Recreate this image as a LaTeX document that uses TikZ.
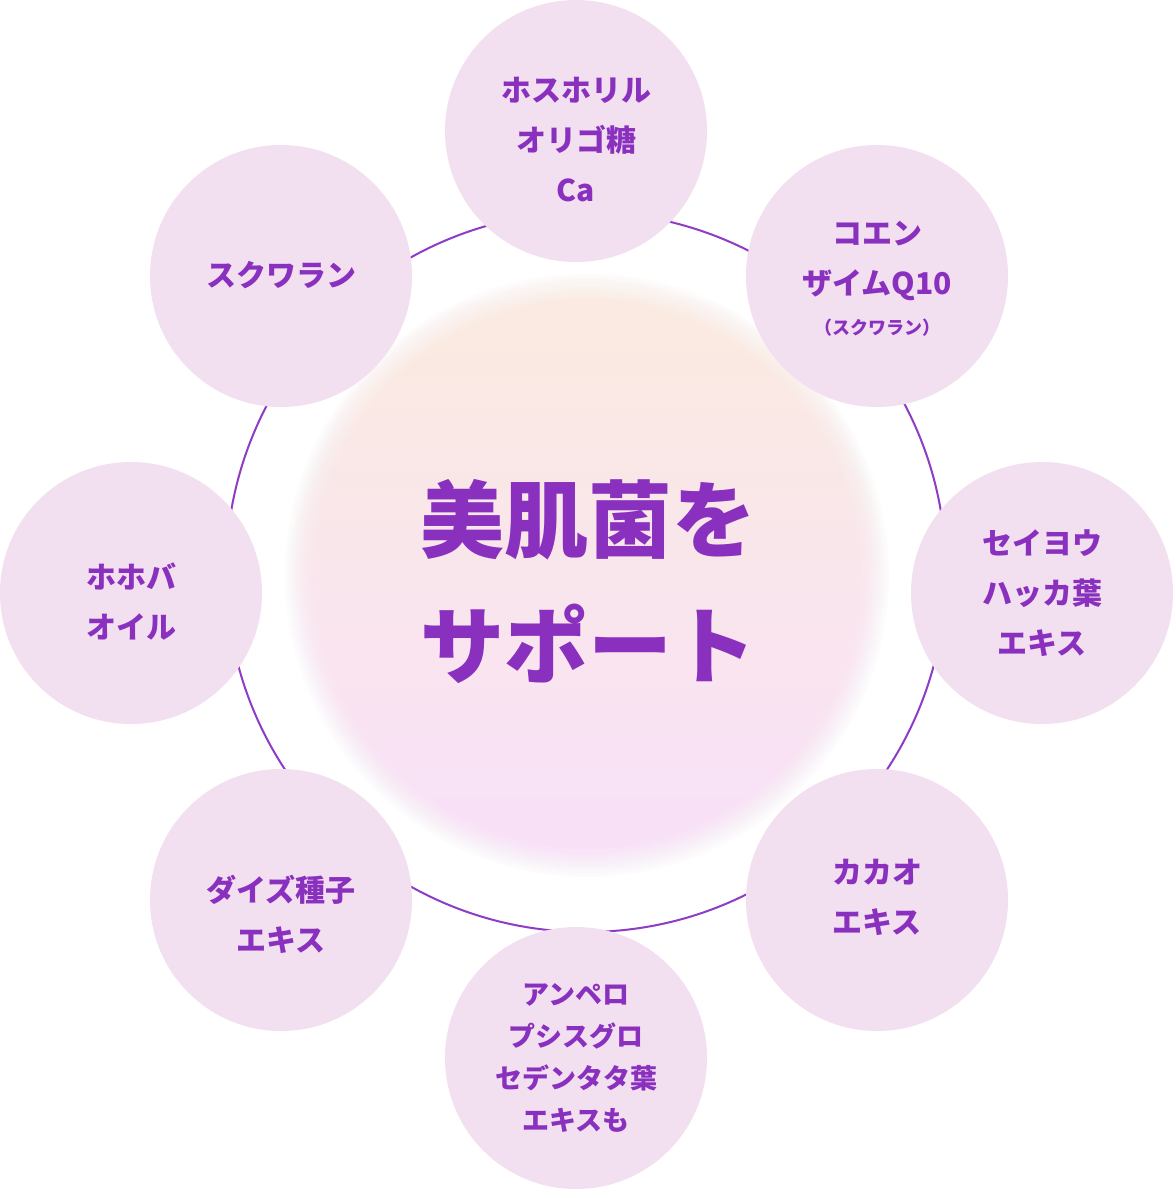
\documentclass[tikz,border=0pt]{standalone}
\usepackage{fontspec}
\newfontfamily\jp{Noto Sans CJK JP}
\definecolor{circfill}{HTML}{F2DFF0}
\definecolor{txtpurple}{HTML}{8A30BE}
\definecolor{ringcol}{HTML}{8E3CC6}
\definecolor{glowtop}{HTML}{FAEBDF}
\definecolor{glowmid}{HTML}{FAE6EF}
\definecolor{glowbot}{HTML}{F8E0F9}
\tikzset{
  bubble/.style={circle, fill=circfill, minimum size=262pt, inner sep=0pt},
  lbl/.style={text=txtpurple, align=center, inner sep=0pt, font=\jp\bfseries\fontsize{30}{50}\selectfont},
  lblsmall/.style={text=txtpurple, align=center, inner sep=0pt, font=\jp\bfseries\fontsize{27}{42}\selectfont},
  lbltiny/.style={text=txtpurple, align=center, inner sep=0pt, font=\jp\bfseries\fontsize{18}{22}\selectfont},
  bigtxt/.style={text=txtpurple, align=center, inner sep=0pt, font=\jp\bfseries\fontsize{84}{126}\selectfont},
  ringstyle/.style={circle, draw=ringcol, line width=2pt, minimum size=720pt, inner sep=0pt}
}
\begin{document}
\begin{tikzpicture}[x=1pt,y=-1pt]
\useasboundingbox[fill=white] (0,0) rectangle (1173,1189);
% ring
\node[ringstyle] (ring) at (586,572) {};
% glow
\fill[top color=glowtop, middle color=glowmid, bottom color=glowbot] (587,575) circle (304);
% soft edge: white annuli of increasing opacity
\foreach \k in {1,...,15}{
  \pgfmathsetmacro{\rr}{272+2*\k}
  \pgfmathsetmacro{\aa}{1/(16-\k)}
  \fill[white, even odd rule, fill opacity=\aa] (587,575) circle (\rr) (587,575) circle (308);
}
% bubbles
\node[bubble] (c1) at (576,131) {};
\node[bubble] (c2) at (877,276) {};
\node[bubble] (c3) at (1042,593) {};
\node[bubble] (c4) at (877,900) {};
\node[bubble] (c5) at (576,1058) {};
\node[bubble] (c6) at (281,900) {};
\node[bubble] (c7) at (131,593) {};
\node[bubble] (c8) at (281,276) {};
% labels
\node[lbl] (t1) at (576,140) {ホスホリル\\オリゴ糖\\Ca};
\node[lbl] (t2) at (877,261) {コエン\\ザイムQ10};
\node[lbltiny] (t2b) at (877,328) {（スクワラン）};
\node[lbl] (t3) at (1042,593) {セイヨウ\\ハッカ葉\\エキス};
\node[lbl] (t4) at (877,897) {カカオ\\エキス};
\node[lblsmall] (t5) at (576,1058) {アンペロ\\プシスグロ\\セデンタタ葉\\エキスも};
\node[lbl] (t6) at (281,914) {ダイズ種子\\エキス};
\node[lbl] (t7) at (131,602) {ホホバ\\オイル};
\node[lbl] (t8) at (281,275) {スクワラン};
% center text
\node[bigtxt] (center) at (588,581) {美肌菌を\\サポート};
\end{tikzpicture}
\end{document}
